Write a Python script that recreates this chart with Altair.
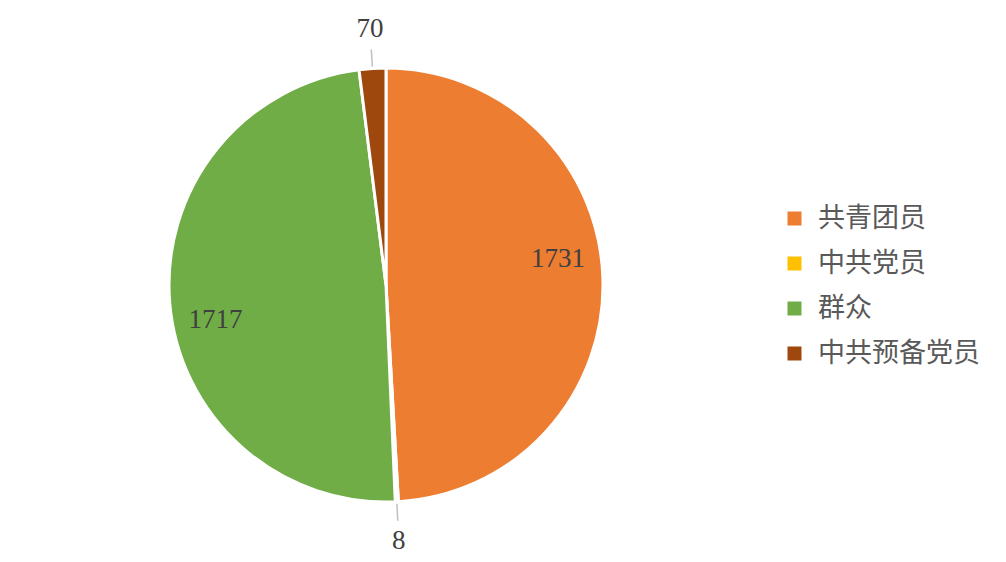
import altair as alt
import pandas as pd

categories = ["共青团员", "中共党员", "群众", "中共预备党员"]
values = [1731, 8, 1717, 70]
colors = ["#ED7D31", "#FFC000", "#70AD47", "#9E480E"]

df = pd.DataFrame({"category": categories, "value": values, "order": list(range(len(categories)))})

CX, CY, R = 378, 277, 217

base = alt.Chart(df)

pie = base.mark_arc(outerRadius=R, stroke="white", strokeWidth=3).encode(
    theta=alt.Theta("value:Q", stack=True),
    color=alt.Color(
        "category:N",
        scale=alt.Scale(domain=categories, range=colors),
        sort=categories,
        legend=alt.Legend(
            title=None, orient="none", legendX=773, legendY=197,
            symbolType="square", symbolSize=196, symbolStrokeWidth=0,
            labelFont="Noto Sans CJK SC", labelFontSize=27, labelColor="#595959",
            rowPadding=17, labelOffset=10, labelLimit=400,
        ),
    ),
    order=alt.Order("order:Q"),
    x=alt.value(CX),
    y=alt.value(CY),
)

geo = (
    base.transform_joinaggregate(total="sum(value)")
    .transform_window(cum="sum(value)", sort=[alt.SortField("order")], frame=[None, 0])
    .transform_calculate(mid="2*PI*(datum.cum - datum.value/2)/datum.total")
    .transform_calculate(
        ang="datum.value > 500 ? datum.mid - 0.12 : datum.mid",
        r="datum.value > 500 ? 174 : 256",
    )
    .transform_calculate(
        lx=f"{CX} + datum.r*sin(datum.ang)",
        ly=f"{CY} - datum.r*cos(datum.ang)",
        x1=f"{CX} + 219*sin(datum.mid)",
        y1=f"{CY} - 219*cos(datum.mid)",
        x2=f"{CX} + 236*sin(datum.mid)",
        y2=f"{CY} - 236*cos(datum.mid)",
    )
)

labels = geo.mark_text(
    font="Liberation Serif", fontSize=27, color="#404040", align="center", baseline="middle"
).encode(
    x=alt.X("lx:Q", scale=None, axis=None),
    y=alt.Y("ly:Q", scale=None, axis=None),
    text="value:Q",
)

leaders = geo.transform_filter("datum.value < 500").mark_rule(color="#BFBFBF", strokeWidth=1.5).encode(
    x=alt.X("x1:Q", scale=None, axis=None),
    y=alt.Y("y1:Q", scale=None, axis=None),
    x2="x2:Q",
    y2="y2:Q",
)

chart = alt.layer(pie, leaders, labels).properties(
    width=990, height=546, autosize="none", padding=0
).configure_view(stroke=None)

chart.save("out.html", embed_options={"renderer": "svg", "actions": False})
